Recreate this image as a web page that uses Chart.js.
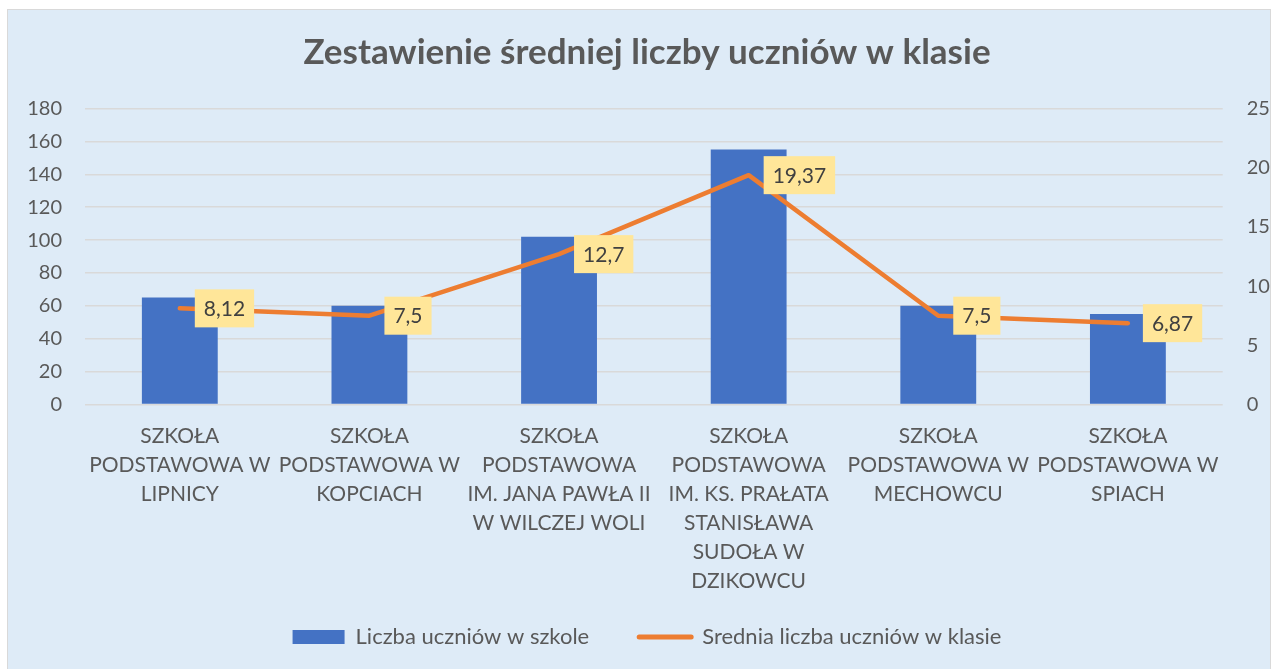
<!DOCTYPE html>
<html lang="pl">
<head>
<meta charset="utf-8">
<title>Zestawienie średniej liczby uczniów w klasie</title>
<script src="https://cdn.jsdelivr.net/npm/chart.js@4.4.1/dist/chart.umd.min.js"></script>
<style>
    body { margin: 0; background: #ffffff; overflow: hidden; }
    #wrap {
        position: absolute;
        left: 7px;
        top: 9px;
        width: 1262px;
        height: 660px;
        background: #deebf7;
        border: 1px solid #d9d9d9;
    }
</style>
</head>
<body>
<div id="wrap"><canvas id="myChart"></canvas></div>
<script>
const schools = [
    ["SZKOŁA", "PODSTAWOWA W", "LIPNICY"],
    ["SZKOŁA", "PODSTAWOWA W", "KOPCIACH"],
    ["SZKOŁA", "PODSTAWOWA", "IM. JANA PAWŁA II", "W WILCZEJ WOLI"],
    ["SZKOŁA", "PODSTAWOWA", "IM. KS. PRAŁATA", "STANISŁAWA", "SUDOŁA W", "DZIKOWCU"],
    ["SZKOŁA", "PODSTAWOWA W", "MECHOWCU"],
    ["SZKOŁA", "PODSTAWOWA W", "SPIACH"],
];
const studentsInSchool = [65, 60, 102, 155, 60, 55];
const avgPerClass = [8.12, 7.5, 12.7, 19.37, 7.5, 6.87];
const leftTicks = [0, 20, 40, 60, 80, 100, 120, 140, 160, 180];
const rightTicks = [0, 5, 10, 15, 20, 25];

const textGray = "#595959";

// etykiety danych dla linii (żółte prostokąty po prawej stronie punktu)
const lineLabels = {
    id: "lineLabels",
    afterDatasetsDraw(chart) {
        const ctx = chart.ctx;
        chart.data.datasets.forEach((ds, i) => {
            if (ds.type !== "line") return;
            const meta = chart.getDatasetMeta(i);
            ctx.save();
            ctx.font = "21px Lato";
            ctx.textBaseline = "middle";
            ctx.textAlign = "left";
            meta.data.forEach((pt, j) => {
                const txt = String(ds.data[j]).replace(".", ",");
                const w = ctx.measureText(txt).width + 18;
                const h = 38;
                const x = pt.x + 15;
                const y = pt.y - h / 2;
                ctx.fillStyle = "#ffe699";
                ctx.fillRect(x, y, w, h);
                ctx.fillStyle = "#404040";
                ctx.fillText(txt, x + 9, pt.y + 1);
            });
            ctx.restore();
        });
    },
};

// długie nazwy szkół wychodzą poza pole osi X - nie przycinamy ich
const unclipXLabels = {
    id: "unclipXLabels",
    afterLayout(chart) {
        chart.scales.x.bottom = chart.height;
    },
};

document.addEventListener("DOMContentLoaded", () => {
    Chart.defaults.font.family = "Lato";
    Chart.defaults.color = textGray;

    const ctx = document.getElementById("myChart").getContext("2d");
    new Chart(ctx, {
        type: "bar",
        data: {
            labels: schools,
            datasets: [{
                type: "bar",
                label: "Liczba uczniów w szkole",
                data: studentsInSchool,
                backgroundColor: "#4472c4",
                yAxisID: "y",
                barPercentage: 0.4,
                categoryPercentage: 1,
                order: 1,
            }, {
                type: "line",
                label: "Srednia liczba uczniów w klasie",
                data: avgPerClass,
                borderColor: "#ed7d31",
                backgroundColor: "#ed7d31",
                borderWidth: 4.5,
                borderCapStyle: "round",
                borderJoinStyle: "round",
                pointRadius: 0,
                tension: 0,
                yAxisID: "y2",
                order: 0,
            }, ],
        },
        options: {
            responsive: true,
            maintainAspectRatio: false,
            animation: false,
            layout: { padding: { left: 16, right: 0, top: 0, bottom: 12 } },
            plugins: {
                title: {
                    display: true,
                    text: "Zestawienie średniej liczby uczniów w klasie",
                    color: textGray,
                    font: { size: 35, weight: "bold", lineHeight: 1.2 },
                    padding: { top: 22, bottom: 34.5 },
                },
                legend: {
                    position: "bottom",
                    labels: {
                        usePointStyle: true,
                        pointStyleWidth: 52,
                        boxHeight: 14,
                        padding: 50,
                        color: textGray,
                        font: { size: 22 },
                        generateLabels: (chart) => chart.data.datasets.map((ds, i) => ({
                            text: ds.label,
                            fillStyle: ds.backgroundColor,
                            strokeStyle: ds.type === "line" ? ds.borderColor : ds.backgroundColor,
                            lineWidth: ds.type === "line" ? 5 : 0,
                            lineCap: "round",
                            pointStyle: ds.type === "line" ? "line" : "rect",
                            fontColor: textGray,
                            hidden: false,
                            datasetIndex: i,
                        })),
                    },
                },
                tooltip: { enabled: false },
            },
            scales: {
                x: {
                    grid: { display: false, drawTicks: false },
                    border: { display: false },
                    ticks: {
                        autoSkip: false,
                        maxRotation: 0,
                        padding: 17,
                        color: textGray,
                        font: { size: 21, lineHeight: 1.381 },
                    },
                    afterFit: (scale) => { scale.height = 171.5; },
                },
                y: {
                    position: "left",
                    min: 0,
                    max: 180,
                    afterBuildTicks: (scale) => { scale.ticks = leftTicks.map((v) => ({ value: v })); },
                    grid: { color: "#d9d9d9", lineWidth: 1.5, drawTicks: false },
                    border: { display: false },
                    ticks: { padding: 23, color: textGray, font: { size: 20 } },
                    afterFit: (scale) => { scale.width = 61; },
                },
                y2: {
                    position: "right",
                    min: 0,
                    max: 25,
                    afterBuildTicks: (scale) => { scale.ticks = rightTicks.map((v) => ({ value: v })); },
                    grid: { display: false, drawTicks: false },
                    border: { display: false },
                    ticks: { padding: 24, color: textGray, font: { size: 20 } },
                    afterFit: (scale) => { scale.width = 47.3; },
                },
            },
        },
        plugins: [lineLabels, unclipXLabels],
    });
});
</script>
</body>
</html>
